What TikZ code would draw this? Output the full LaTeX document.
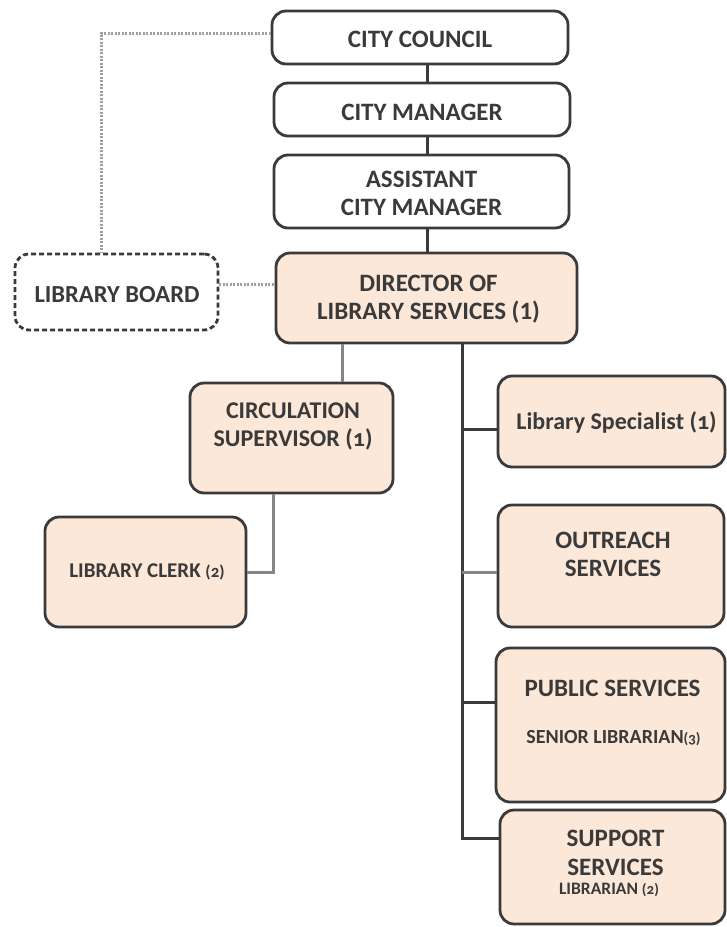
\documentclass[tikz,border=0pt]{standalone}
\usepackage{fontspec}
\setmainfont{Carlito}
\newfontfamily\osf{Carlito}[Numbers=OldStyle]
\definecolor{peach}{HTML}{FCE8D9}
\definecolor{ink}{HTML}{3A3A3A}
\definecolor{lgray}{HTML}{858585}
\definecolor{dotgray}{HTML}{A0A0A0}
\begin{document}
\begin{tikzpicture}[x=1pt,y=-1pt,
  box/.style={draw=ink, line width=2.8pt, rounded corners=14pt, inner sep=0pt},
  whitebox/.style={box, fill=white},
  peachbox/.style={box, fill=peach},
  boardbox/.style={draw=ink, line width=2.8pt, dash pattern=on 5pt off 3pt, rounded corners=14pt, fill=white, inner sep=0pt},
  txt/.style={text=ink, align=center, inner sep=0pt, font=\bfseries\fontsize{25}{28}\selectfont},
  darkline/.style={draw=ink, line width=3pt},
  grayline/.style={draw=lgray, line width=3pt},
  dotline/.style={draw=dotgray, line width=3pt, dash pattern=on 2pt off 1.5pt}]
\useasboundingbox (0,0) rectangle (727,927);
% connector anchor coordinates
\coordinate (cx) at (427,0);
\coordinate (c1) at (342,0);
\coordinate (c2) at (273,0);
\coordinate (tr) at (462,0);
\coordinate (bx) at (101,0);
\coordinate (yd) at (0,33);
\coordinate (yb) at (0,284);
\coordinate (y1) at (0,429);
\coordinate (y2) at (0,572);
\coordinate (y3) at (0,702);
\coordinate (y4) at (0,838);
% boxes
\node[whitebox, minimum width=296pt, minimum height=53pt] (council) at (420,37.5) {};
\node[whitebox, minimum width=296pt, minimum height=53pt] (manager) at (422,109.5) {};
\node[whitebox, minimum width=295pt, minimum height=73pt] (asst) at (421.5,191.5) {};
\node[peachbox, minimum width=301pt, minimum height=90pt] (director) at (426.5,298) {};
\node[boardbox, minimum width=203pt, minimum height=76pt] (board) at (116.5,292) {};
\node[peachbox, minimum width=203pt, minimum height=110pt] (circ) at (291.5,438) {};
\node[peachbox, minimum width=201pt, minimum height=110pt] (clerk) at (145.5,572) {};
\node[peachbox, minimum width=227pt, minimum height=91pt] (spec) at (611.5,421.5) {};
\node[peachbox, minimum width=226pt, minimum height=122pt] (outreach) at (611,566) {};
\node[peachbox, minimum width=229pt, minimum height=154pt] (public) at (610.5,725) {};
\node[peachbox, minimum width=225pt, minimum height=114pt] (support) at (612.5,867) {};
% connectors
\draw[dotline] (council.west |- yd) -- (bx |- yd) -- (bx |- board.north);
\draw[dotline] (board.east |- yb) -- (director.west |- yb);
\draw[darkline] (council.south -| cx) -- (manager.north -| cx);
\draw[darkline] (manager.south -| cx) -- (asst.north -| cx);
\draw[darkline] (asst.south -| cx) -- (director.north -| cx);
\draw[grayline] (director.south -| c1) -- (circ.north -| c1);
\draw[grayline] (circ.south -| c2) |- (clerk.east);
\draw[darkline] (director.south -| tr) -- (tr |- y4) -- (support.west |- y4);
\draw[darkline] (tr |- y1) -- (spec.west |- y1);
\draw[grayline] (tr |- y2) -- (outreach.west |- y2);
\draw[darkline] (tr |- y3) -- (public.west |- y3);
% texts
\node[txt] (tcouncil) at (420,39.5) {CITY COUNCIL};
\node[txt] (tmanager) at (422,112) {CITY MANAGER};
\node[txt] (tasst) at (421.5,193.5) {ASSISTANT\\CITY MANAGER};
\node[txt] (tdirector) at (428.5,299) {DIRECTOR OF\\LIBRARY SERVICES (1)};
\node[txt, font=\bfseries\fontsize{24.5}{28}\selectfont] (tboard) at (117,295) {LIBRARY BOARD};
\node[txt, font=\bfseries\fontsize{24}{28}\selectfont] (tcirc) at (293,426) {CIRCULATION\\SUPERVISOR {\osf(1)}};
\node[txt, font=\bfseries\fontsize{21}{24}\selectfont] (tclerk) at (147,572) {LIBRARY CLERK {\osf\fontsize{17}{18}\selectfont(2)}};
\node[txt, font=\bfseries\fontsize{24}{28}\selectfont] (tspec) at (616.5,422) {Library Specialist {\osf(1)}};
\node[txt, font=\bfseries\fontsize{25}{28}\selectfont] (toutreach) at (613,554) {OUTREACH\\SERVICES};
\node[txt, font=\bfseries\fontsize{25}{28}\selectfont] (tpublic) at (612.5,688) {PUBLIC SERVICES};
\node[txt, font=\bfseries\fontsize{20}{22}\selectfont] (tsenior) at (613.5,738) {SENIOR LIBRARIAN{\osf\fontsize{15}{16}\selectfont(3)}};
\node[txt, font=\bfseries\fontsize{25}{29}\selectfont] (tsupport) at (615.5,852.5) {SUPPORT\\SERVICES};
\node[txt, font=\bfseries\fontsize{17.5}{20}\selectfont] (tlib) at (609,890) {LIBRARIAN {\osf\fontsize{15}{16}\selectfont(2)}};
\end{tikzpicture}
\end{document}
